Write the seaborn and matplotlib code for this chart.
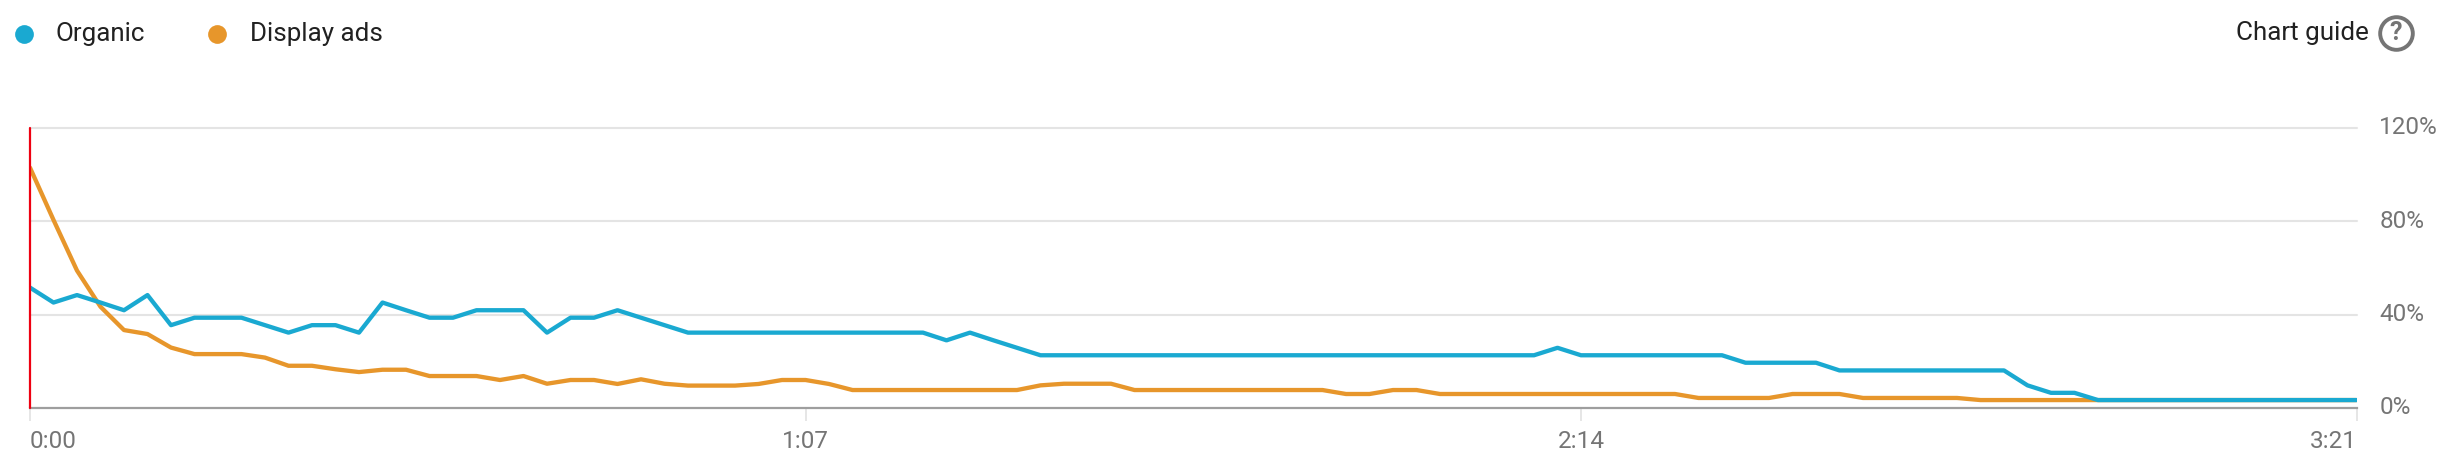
import numpy as np
import pandas as pd
import matplotlib.pyplot as plt
from matplotlib.lines import Line2D
import seaborn as sns

# ── Dados ─────────────────────────────────────────────────
organic = [
    51.6, 45.2, 48.4, 45.2, 41.9, 48.4, 35.5, 38.7, 38.7, 38.7,
    35.5, 32.3, 35.5, 35.5, 32.3, 45.2, 41.9, 38.7, 38.7, 41.9,
    41.9, 41.9, 32.3, 38.7, 38.7, 41.9, 38.7, 35.5, 32.3, 32.3,
    32.3, 32.3, 32.3, 32.3, 32.3, 32.3, 32.3, 32.3, 32.3, 29.0,
    32.3, 29.0, 25.8, 22.6, 22.6, 22.6, 22.6, 22.6, 22.6, 22.6,
    22.6, 22.6, 22.6, 22.6, 22.6, 22.6, 22.6, 22.6, 22.6, 22.6,
    22.6, 22.6, 22.6, 22.6, 22.6, 25.8, 22.6, 22.6, 22.6, 22.6,
    22.6, 22.6, 22.6, 19.4, 19.4, 19.4, 19.4, 16.1, 16.1, 16.1,
    16.1, 16.1, 16.1, 16.1, 16.1, 9.7, 6.5, 6.5, 3.4, 3.4,
    3.4, 3.4, 3.4, 3.4, 3.4, 3.4, 3.4, 3.4, 3.4, 3.4,
]
display_ads = [
    103.0, 80.6, 58.9, 43.4, 33.4, 31.7, 25.9, 23.1, 23.1, 23.1,
    21.6, 18.1, 18.1, 16.6, 15.4, 16.4, 16.4, 13.7, 13.7, 13.7,
    12.0, 13.7, 10.4, 12.0, 12.0, 10.3, 12.3, 10.4, 9.6, 9.6,
    9.6, 10.3, 12.0, 12.0, 10.3, 7.7, 7.7, 7.7, 7.7, 7.7,
    7.7, 7.7, 7.7, 9.7, 10.4, 10.4, 10.4, 7.7, 7.7, 7.7,
    7.7, 7.7, 7.7, 7.7, 7.7, 7.7, 6.0, 6.0, 7.7, 7.7,
    6.0, 6.0, 6.0, 6.0, 6.0, 6.0, 6.0, 6.0, 6.0, 6.0,
    6.0, 4.3, 4.3, 4.3, 4.3, 6.0, 6.0, 6.0, 4.3, 4.3,
    4.3, 4.3, 4.3, 3.4, 3.4, 3.4, 3.4, 3.4, 3.4, 3.4,
    3.4, 3.4, 3.4, 3.4, 3.4, 3.4, 3.4, 3.4, 3.4, 3.4,
]
x_ticks = [0, 67, 134, 201]
x_labels = ["0:00", "1:07", "2:14", "3:21"]
y_ticks = [0, 40, 80, 120]
y_labels = ["0%", "40%", "80%", "120%"]

AZUL = "#1AA9D1"
LARANJA = "#E7962B"
CINZA = "#757575"
GRADE = "#E4E4E4"

W, H = 2448, 466
segundos = np.linspace(0, 201, len(organic))
df = pd.DataFrame({
    "tempo": np.tile(segundos, 2),
    "valor": display_ads + organic,
    "serie": ["Display ads"] * len(display_ads) + ["Organic"] * len(organic),
})

sns.set_theme(style="white")
plt.rcParams["font.family"] = ["Roboto", "DejaVu Sans"]

fig = plt.figure(figsize=(W / 100, H / 100), dpi=100, facecolor="white")
ax = fig.add_axes([30 / W, (H - 408) / H, (2356.5 - 30) / W, 280 / H])

# ── Linhas ────────────────────────────────────────────────
sns.lineplot(
    data=df, x="tempo", y="valor", hue="serie",
    hue_order=["Display ads", "Organic"],
    palette={"Display ads": LARANJA, "Organic": AZUL},
    linewidth=3.1, legend=False, ax=ax, zorder=3,
)
ax.axvline(0, color="#EE0011", linewidth=1.6, zorder=5, clip_on=False)

# ── Eixos ─────────────────────────────────────────────────
ax.set_xlim(0, 201)
ax.set_ylim(0, 120)
ax.set_xlabel("")
ax.set_ylabel("")
for lado in ["top", "left", "right"]:
    ax.spines[lado].set_visible(False)
ax.spines["bottom"].set_color("#9E9E9E")
ax.spines["bottom"].set_linewidth(1.6)
ax.spines["bottom"].set_zorder(2)

ax.yaxis.tick_right()
ax.set_yticks(y_ticks)
ax.set_yticklabels(y_labels, fontsize=17.5, color=CINZA, ha="left", va="center")
ax.tick_params(axis="y", length=0, pad=16.5)
for valor in y_ticks[1:]:
    ax.axhline(valor, color=GRADE, linewidth=1.5, zorder=1, clip_on=False)

ax.set_xticks(x_ticks)
ax.set_xticklabels(x_labels, fontsize=17.5, color=CINZA)
ax.tick_params(axis="x", length=9, width=1.3, color=GRADE, pad=7, bottom=True)
rotulos = ax.get_xticklabels()
rotulos[0].set_ha("left")
rotulos[-1].set_ha("right")

# ── Legenda e "Chart guide" ───────────────────────────────
def marcador(px, py, **kw):
    fig.add_artist(Line2D([px / W], [1 - py / H], transform=fig.transFigure, marker="o", linestyle="none", **kw))

def texto(px, py, s, **kw):
    fig.text(px / W, 1 - py / H, s, va="center", **kw)

marcador(24, 34, markersize=13.5, color=AZUL, markeredgewidth=0)
marcador(217, 34, markersize=13.5, color=LARANJA, markeredgewidth=0)
texto(56, 34, "Organic", fontsize=18.7, color="#212121")
texto(250, 34, "Display ads", fontsize=18.7, color="#212121")
texto(2236, 33, "Chart guide", fontsize=18.7, color="#212121")
marcador(2396, 33, markersize=23.5, markerfacecolor="white", markeredgecolor=CINZA, markeredgewidth=2.8)
texto(2396, 33, "?", fontsize=18, color=CINZA, ha="center", fontweight="bold")

fig.savefig("out.png", dpi=100)
